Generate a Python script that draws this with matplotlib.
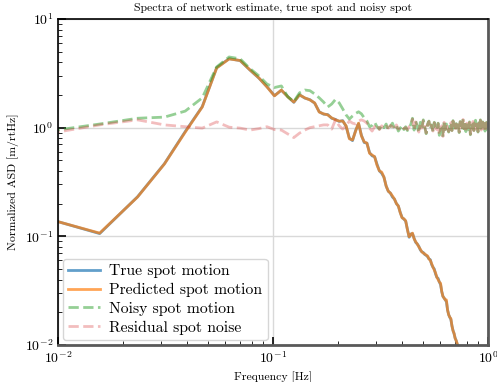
import numpy as np
import matplotlib
matplotlib.use('Agg')
import matplotlib.pyplot as plt

plt.rcParams['font.family'] = 'serif'
plt.rcParams['font.serif'] = ['cmr10', 'DejaVu Serif']
plt.rcParams['mathtext.fontset'] = 'cm'
plt.rcParams['axes.formatter.use_mathtext'] = True

# frequency bins: k/128 Hz, k = 1..128
freq = np.arange(1, 129) / 128.0

# predicted spot motion (only the part that is inside the y range)
predicted = [0.156, 0.107, 0.230, 0.463, 0.91, 1.55, 3.54, 4.29, 4.15, 3.40,
             2.87, 2.37, 1.96, 2.22, 1.92, 1.72, 2.00, 1.88, 1.80, 1.69,
             1.39, 1.34, 1.31, 1.23, 1.18, 1.15, 1.15, 1.04, 0.79, 0.77,
             0.93, 1.10, 0.84, 0.74, 0.72, 0.58, 0.56, 0.54, 0.45, 0.40,
             0.39, 0.35, 0.29, 0.26, 0.25, 0.235, 0.22, 0.20, 0.19, 0.165,
             0.148, 0.145, 0.139, 0.115, 0.099, 0.104, 0.107, 0.095, 0.089, 0.085,
             0.080, 0.076, 0.072, 0.070, 0.069, 0.067, 0.066, 0.062, 0.060, 0.056,
             0.052, 0.049, 0.046, 0.042, 0.040, 0.038, 0.037, 0.031, 0.028, 0.027,
             0.026, 0.026, 0.021, 0.019, 0.018, 0.0175, 0.015, 0.0135, 0.0128, 0.0115,
             0.011, 0.0103, 0.0095, 0.008, 0.007, 0.0062, 0.0055]

# true spot motion (almost identical to the prediction)
true_spot = [0.157, 0.106, 0.231, 0.465, 0.92, 1.56, 3.56, 4.31, 4.14, 3.39,
             2.86, 2.38, 1.97, 2.21, 1.93, 1.71, 2.01, 1.87, 1.81, 1.68,
             1.40, 1.33, 1.32, 1.22, 1.19, 1.14, 1.16, 1.03, 0.80, 0.76,
             0.94, 1.09, 0.85, 0.73, 0.72, 0.59, 0.55, 0.54, 0.46, 0.40,
             0.38, 0.35, 0.29, 0.26, 0.25, 0.23, 0.22, 0.20, 0.19, 0.166,
             0.149, 0.144, 0.138, 0.116, 0.098, 0.105, 0.106, 0.096, 0.088, 0.085,
             0.081, 0.075, 0.072, 0.071, 0.068, 0.067, 0.065, 0.062, 0.061, 0.055,
             0.052, 0.050, 0.045, 0.042, 0.041, 0.038, 0.036, 0.031, 0.028, 0.027,
             0.026, 0.025, 0.021, 0.019, 0.018, 0.0172, 0.015, 0.0136, 0.0127, 0.0116,
             0.011, 0.0102, 0.0094, 0.0081, 0.0069, 0.0061, 0.0056]

noisy = [0.89, 1.08, 1.22, 1.25, 1.42, 1.88, 3.62, 4.47, 4.30, 3.50,
         3.00, 2.52, 2.34, 2.42, 1.92, 1.74, 2.09, 2.22, 2.19, 2.04,
         1.88, 1.72, 1.55, 1.65, 1.82, 1.69, 1.49, 1.31, 1.20, 1.28,
         1.35, 1.40, 1.34, 1.23, 1.15, 1.02, 1.05, 1.12, 1.02, 0.97,
         1.06, 1.00, 1.08, 0.95, 1.03, 1.10, 0.98, 1.04, 0.93, 0.99,
         1.05, 0.96, 1.02, 0.94, 1.00, 1.07, 1.22, 0.95, 1.15, 1.03,
         0.90, 1.12, 0.98, 1.18, 1.02, 0.88, 1.08, 1.15, 0.97, 1.06,
         0.92, 1.12, 1.00, 0.95, 1.10, 0.85, 0.98, 1.05, 0.82, 1.13,
         0.96, 1.08, 0.99, 0.91, 1.04, 1.12, 0.94, 1.16, 1.00, 0.93,
         1.09, 0.97, 1.06, 0.90, 1.14, 1.02, 0.95, 1.20, 0.98, 1.07,
         0.92, 1.10, 1.01, 0.96, 1.13, 0.86, 1.05, 0.99, 1.15, 0.94,
         1.08, 1.17, 0.97, 1.04, 0.91, 1.11, 1.00, 1.18, 0.95, 1.06,
         1.13, 0.98, 1.09, 0.93, 1.03, 1.12, 0.97, 1.05]

residual = [0.84, 1.06, 1.18, 1.06, 1.02, 0.99, 1.13, 1.01, 0.99, 0.95,
            0.98, 1.02, 0.96, 0.95, 0.875, 0.81, 0.89, 0.95, 1.00, 1.02,
            1.04, 1.06, 1.06, 0.97, 1.18, 1.04, 0.97, 1.04, 1.15, 1.10,
            1.08, 1.15, 1.18, 1.15, 1.10, 0.99, 0.93, 1.02, 1.08, 0.96,
            1.04, 0.98, 1.03, 0.99, 1.05, 1.02, 0.95, 1.06, 0.97, 1.01,
            1.03, 0.98, 1.00, 0.96, 1.02, 1.05, 1.20, 0.96, 1.13, 1.02,
            0.91, 1.10, 0.99, 1.16, 1.01, 0.89, 1.07, 1.14, 0.98, 1.05,
            0.93, 1.11, 1.00, 0.96, 1.09, 0.86, 0.98, 1.04, 0.83, 1.12,
            0.96, 1.07, 0.99, 0.92, 1.04, 1.11, 0.94, 1.15, 1.00, 0.94,
            1.08, 0.97, 1.06, 0.91, 1.13, 1.02, 0.95, 1.19, 0.98, 1.07,
            0.92, 1.10, 1.01, 0.96, 1.12, 0.87, 1.05, 0.99, 1.14, 0.94,
            1.08, 1.16, 0.97, 1.04, 0.92, 1.10, 1.00, 1.17, 0.95, 1.06,
            1.12, 0.98, 1.09, 0.93, 1.03, 1.11, 0.97, 1.05]

fig = plt.figure(figsize=(4.97, 3.82), dpi=100)
ax = fig.add_axes([0.1167, 0.0969, 0.8652, 0.8534])

ax.plot(freq[:len(true_spot)], true_spot, color='tab:blue', alpha=0.7, lw=2, label='True spot motion')
ax.plot(freq[:len(predicted)], predicted, color='tab:orange', alpha=0.7, lw=2, label='Predicted spot motion')
ax.plot(freq, noisy, color='tab:green', alpha=0.5, lw=2, ls='--', label='Noisy spot motion')
ax.plot(freq, residual, color='tab:red', alpha=0.3, lw=2, ls='--', label='Residual spot noise')

ax.set_xscale('log')
ax.set_yscale('log')
ax.set_xlim(1e-2, 1)
ax.set_ylim(1e-2, 10)
ax.grid(True, which='major', color='0.85', lw=1)
ax.tick_params(which='both', direction='in')
ax.tick_params(which='major', length=6, width=1.2, labelsize=10)
ax.tick_params(which='minor', length=3)
for s in ax.spines.values():
    s.set_linewidth(1.2)
for s in ['bottom', 'right']:
    ax.spines[s].set_color('0.35')
    ax.spines[s].set_linewidth(2)

ax.set_title('Spectra of network estimate, true spot and noisy spot', fontsize=8.5)
ax.set_xlabel('Frequency [Hz]', fontsize=8.5)
ax.set_ylabel('Normalized ASD [m/rtHz]', fontsize=8.5)
ax.legend(loc='lower left', fontsize=11.3, handlelength=2.0, borderpad=0.35,
          labelspacing=0.3, handletextpad=0.6, borderaxespad=0.3)

plt.savefig('out.png', dpi=100)
